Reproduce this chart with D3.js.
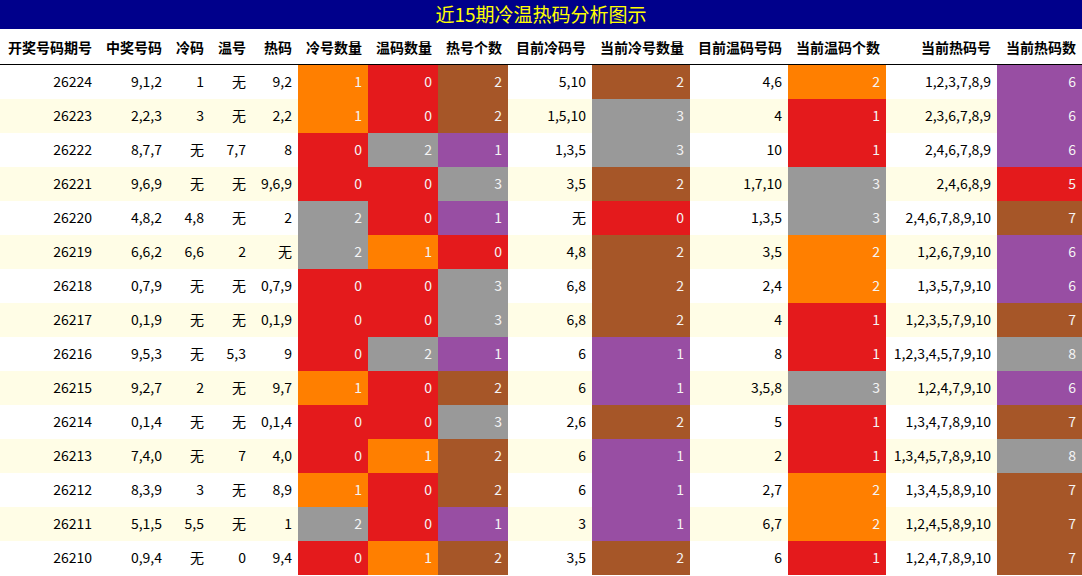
<!DOCTYPE html>
<html><head><meta charset="utf-8">
<script src="https://cdn.jsdelivr.net/npm/d3@7"></script>
<style>body{margin:0;background:#fff}svg{display:block;font-family:"Noto Sans CJK SC","Liberation Sans",sans-serif}</style>
</head><body><svg id="c" width="1082" height="576"></svg>
<script>
const title = "近15期冷温热码分析图示";
const headers = ["开奖号码期号","中奖号码","冷码","温号","热码","冷号数量","温码数量","热号个数","目前冷码号","当前冷号数量","目前温码号码","当前温码个数","当前热码号","当前热码数"];
const periods = ["26224","26223","26222","26221","26220","26219","26218","26217","26216","26215","26214","26213","26212","26211","26210"];
const winning = ["9,1,2","2,2,3","8,7,7","9,6,9","4,8,2","6,6,2","0,7,9","0,1,9","9,5,3","9,2,7","0,1,4","7,4,0","8,3,9","5,1,5","0,9,4"];
const coldCodes = ["1","3","无","无","4,8","6,6","无","无","无","2","无","无","3","5,5","无"];
const warmCodes = ["无","无","7,7","无","无","2","无","无","5,3","无","无","7","无","无","0"];
const hotCodes = ["9,2","2,2","8","9,6,9","2","无","0,7,9","0,1,9","9","9,7","0,1,4","4,0","8,9","1","9,4"];
const coldCount = [1,1,0,0,2,2,0,0,0,1,0,0,1,2,0];
const warmCount = [0,0,2,0,0,1,0,0,2,0,0,1,0,0,1];
const hotCount = [2,2,1,3,1,0,3,3,1,2,3,2,2,1,2];
const curCold = ["5,10","1,5,10","1,3,5","3,5","无","4,8","6,8","6,8","6","6","2,6","6","6","3","3,5"];
const curColdN = [2,3,3,2,0,2,2,2,1,1,2,1,1,1,2];
const curWarm = ["4,6","4","10","1,7,10","1,3,5","3,5","2,4","4","8","3,5,8","5","2","2,7","6,7","6"];
const curWarmN = [2,1,1,3,3,2,2,1,1,3,1,1,2,2,1];
const curHot = ["1,2,3,7,8,9","2,3,6,7,8,9","2,4,6,7,8,9","2,4,6,8,9","2,4,6,7,8,9,10","1,2,6,7,9,10","1,3,5,7,9,10","1,2,3,5,7,9,10","1,2,3,4,5,7,9,10","1,2,4,7,9,10","1,3,4,7,8,9,10","1,3,4,5,7,8,9,10","1,3,4,5,8,9,10","1,2,4,5,8,9,10","1,2,4,7,8,9,10"];
const curHotN = [6,6,6,5,7,6,6,7,8,6,7,8,7,7,7];

const RED="#e41a1c",ORANGE="#ff7f00",GRAY="#999999",PURPLE="#984ea3",BROWN="#a65628";
const colorMaps = {
 5: d3.scaleOrdinal([0,1,2],[RED,ORANGE,GRAY]),
 6: d3.scaleOrdinal([0,1,2],[RED,ORANGE,GRAY]),
 7: d3.scaleOrdinal([0,1,2,3],[RED,PURPLE,BROWN,GRAY]),
 9: d3.scaleOrdinal([0,1,2,3],[RED,PURPLE,BROWN,GRAY]),
 11: d3.scaleOrdinal([1,2,3],[RED,ORANGE,GRAY]),
 13: d3.scaleOrdinal([5,6,7,8],[RED,PURPLE,BROWN,GRAY])
};
const columns=[periods,winning,coldCodes,warmCodes,hotCodes,coldCount,warmCount,hotCount,curCold,curColdN,curWarm,curWarmN,curHot,curHotN];
const widths=[98,70,42,42,46,70,70,70,84,98,98,98,111,85];
const xs=[0]; widths.forEach(w=>xs.push(xs[xs.length-1]+w));

const svg=d3.select("#c");
svg.append("rect").attr("x",0).attr("y",0).attr("width",1082).attr("height",29).attr("fill","#00008b");
svg.append("text").attr("x",541).attr("y",22).attr("text-anchor","middle").attr("fill","#ffff00").attr("font-size",19).text(title);

headers.forEach((h,i)=>svg.append("text").attr("x",xs[i+1]-6).attr("y",53).attr("text-anchor","end")
  .attr("font-size",14).attr("font-weight","bold").attr("fill","#000").text(h));
svg.append("line").attr("x1",0).attr("x2",1082).attr("y1",64.5).attr("y2",64.5).attr("stroke","#000");

const y=d3.scaleBand().domain(d3.range(periods.length)).range([65,575]);
const rows=svg.selectAll("g.row").data(d3.range(periods.length)).join("g").attr("transform",r=>`translate(0,${y(r)})`);
rows.append("rect").attr("width",1082).attr("height",y.bandwidth()).attr("fill",r=>r%2?"#fffde6":"#ffffff");
columns.forEach((col,ci)=>{
  const cm=colorMaps[ci];
  if(cm) rows.append("rect").attr("x",xs[ci]).attr("width",widths[ci]).attr("height",y.bandwidth()).attr("fill",r=>cm(col[r]));
  rows.append("text").attr("x",xs[ci+1]-6).attr("y",y.bandwidth()/2+5).attr("text-anchor","end")
    .attr("font-size",14).attr("fill",cm?"#f4f4f4":"#000").text(r=>col[r]);
});
</script></body></html>
